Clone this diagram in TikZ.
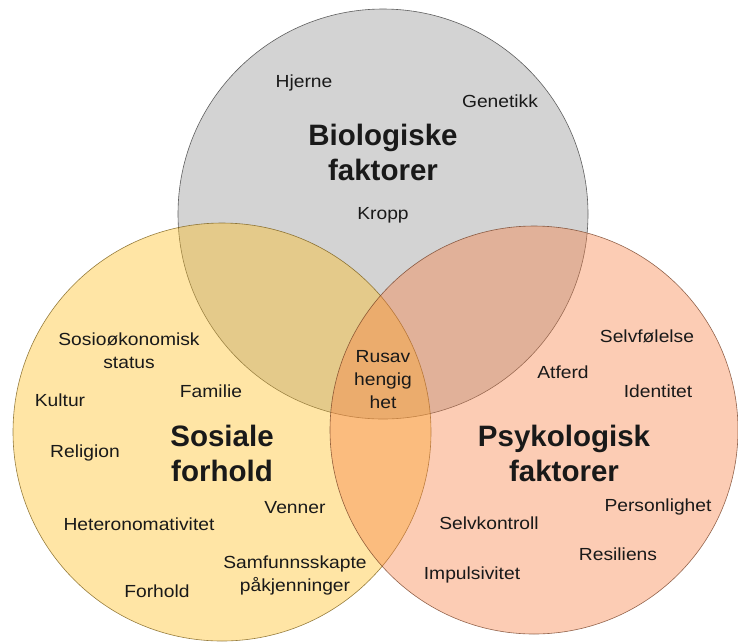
\documentclass[tikz,border=0pt]{standalone}
\usepackage{fontspec}
\setmainfont{Liberation Sans}
\newfontfamily\lblfont{Liberation Sans}[FakeStretch=1.1]
\usepackage{tikz}
\usetikzlibrary{positioning}
\definecolor{biogray}{RGB}{211,211,211}
\definecolor{sosgold}{RGB}{255,190,30}
\definecolor{psysalmon}{RGB}{247,127,67}
\tikzset{
  ring/.style={
    circle,
    fill=#1,
    draw=#1!45!black,
    line width=0.6pt,
    inner sep=0pt
  },
  glassring/.style={
    ring=#1,
    fill opacity=0.4,
    draw opacity=0.75
  },
  factor/.style={
    font=\lblfont\fontsize{17.5}{23}\selectfont,
    align=center,
    inner sep=0pt,
    text=black!90
  },
  heading/.style={
    font=\fontsize{29.5}{35}\selectfont\bfseries,
    align=center,
    inner sep=0pt,
    text=black!90
  }
}

\begin{document}
\begin{tikzpicture}[x=1pt, y=-1pt]
  \useasboundingbox (0,0) rectangle (738,641);
  % three circles
  \node[ring=biogray, minimum size=410pt] (bio) at (383,214) {};
  \node[glassring=sosgold, minimum size=418pt] (sos) at (222,432) {};
  \node[glassring=psysalmon, minimum size=408pt] (psy) at (534,430) {};

  % biologiske
  \node[heading] (bioname) at (383,152) {Biologiske\\faktorer};
  \node[factor] (hjerne) at (304,83) {Hjerne};
  \node[factor] (genetikk) at (500,101) {Genetikk};
  \node[factor] (kropp) at (383,215) {Kropp};

  % sosiale
  \node[heading] (sosname) at (222,453) {Sosiale\\forhold};
  \node[factor] (sosiookonomisk) at (129,351) {Sosioøkonomisk\\status};
  \node[factor] (familie) at (211,391) {Familie};
  \node[factor] (kultur) at (60,400) {Kultur};
  \node[factor] (religion) at (85,453) {Religion};
  \node[factor] (venner) at (295,508) {Venner};
  \node[factor] (hetero) at (139,524) {Heteronomativitet};
  \node[factor] (samfunn) at (295,575) {Samfunnsskapte\\påkjenninger};
  \node[factor] (forhold) at (157,591) {Forhold};

  % psykologisk
  \node[heading] (psyname) at (564,453) {Psykologisk\\faktorer};
  \node[factor] (selvfolelse) at (647,336) {Selvfølelse};
  \node[factor] (atferd) at (563,372) {Atferd};
  \node[factor] (identitet) at (658,391) {Identitet};
  \node[factor] (personlighet) at (658,507) {Personlighet};
  \node[factor] (selvkontroll) at (489,523) {Selvkontroll};
  \node[factor] (resiliens) at (618,554) {Resiliens};
  \node[factor] (impulsivitet) at (472,575) {Impulsivitet};

  % midten
  \node[factor] (rus) at (383,380) {Rusav\\hengig\\het};
\end{tikzpicture}
\end{document}
